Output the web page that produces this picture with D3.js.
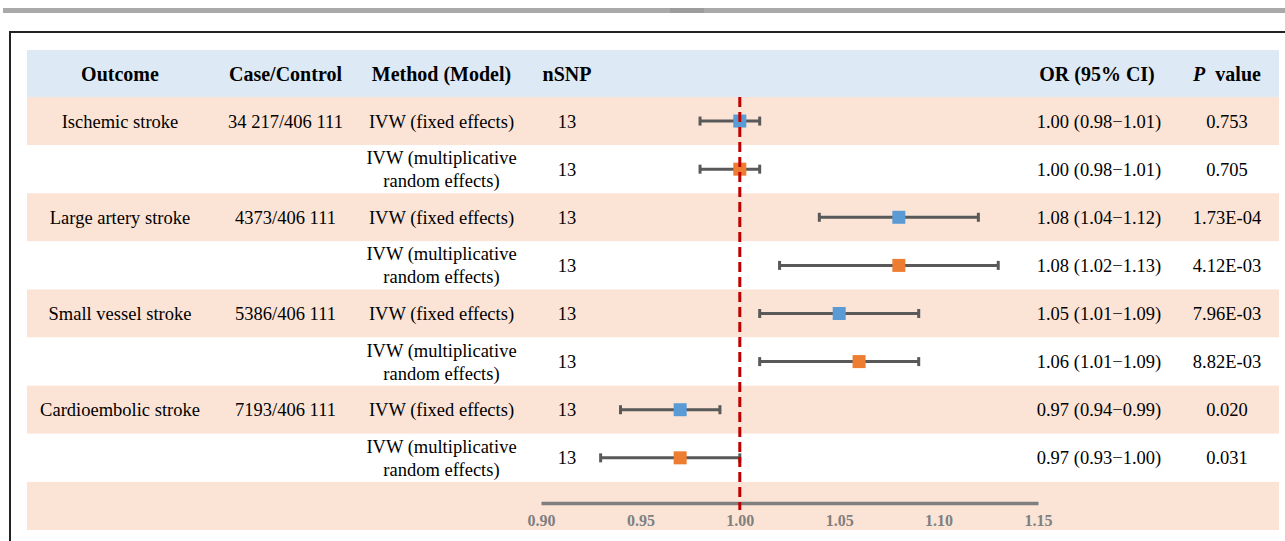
<!DOCTYPE html>
<html><head><meta charset="utf-8">
<script src="https://cdn.jsdelivr.net/npm/d3@7"></script>
<style>html,body{margin:0;padding:0;background:#fff;overflow:hidden}</style>
</head><body>
<svg id="c" width="1285" height="541"></svg>
<script>
const outcomes = ["Ischemic stroke", "", "Large artery stroke", "", "Small vessel stroke", "", "Cardioembolic stroke", ""];
const cases = ["34 217/406 111", "", "4373/406 111", "", "5386/406 111", "", "7193/406 111", ""];
const methods = [["IVW (fixed effects)"], ["IVW (multiplicative", "random effects)"], ["IVW (fixed effects)"], ["IVW (multiplicative", "random effects)"], ["IVW (fixed effects)"], ["IVW (multiplicative", "random effects)"], ["IVW (fixed effects)"], ["IVW (multiplicative", "random effects)"]];
const models = ["fixed", "random", "fixed", "random", "fixed", "random", "fixed", "random"];
const nsnp = [13, 13, 13, 13, 13, 13, 13, 13];
const orVals = [1.00, 1.00, 1.08, 1.08, 1.05, 1.06, 0.97, 0.97];
const loVals = [0.98, 0.98, 1.04, 1.02, 1.01, 1.01, 0.94, 0.93];
const hiVals = [1.01, 1.01, 1.12, 1.13, 1.09, 1.09, 0.99, 1.00];
const orText = ["1.00 (0.98\u22121.01)", "1.00 (0.98\u22121.01)", "1.08 (1.04\u22121.12)", "1.08 (1.02\u22121.13)", "1.05 (1.01\u22121.09)", "1.06 (1.01\u22121.09)", "0.97 (0.94\u22120.99)", "0.97 (0.93\u22121.00)"];
const pText = ["0.753", "0.705", "1.73E-04", "4.12E-03", "7.96E-03", "8.82E-03", "0.020", "0.031"];
const headers = ["Outcome", "Case/Control", "Method (Model)", "nSNP", "OR (95% CI)"];
const tickVals = [0.90, 0.95, 1.00, 1.05, 1.10, 1.15];

const svg = d3.select("#c");
const font = "'Liberation Serif','Times New Roman',serif";
const colX = {outcome: 120, cases: 285.5, method: 441.5, nsnp: 567, or: 1099, p: 1227};
const bandL = 27, bandR = 1279;
const pink = "#fbe4d6", blue = "#ddeaf6";

// top decoration
svg.append("rect").attr("x", 3).attr("y", 8).attr("width", 1282).attr("height", 5).attr("fill", "#a9a9a9");
svg.append("rect").attr("x", 670).attr("y", 8).attr("width", 34).attr("height", 5).attr("fill", "#9c9c9c");
// frame
svg.append("line").attr("x1", 9).attr("x2", 1285).attr("y1", 32).attr("y2", 32).attr("stroke", "#222").attr("stroke-width", 2);
svg.append("line").attr("x1", 10).attr("x2", 10).attr("y1", 31).attr("y2", 541).attr("stroke", "#222").attr("stroke-width", 2);

const rows = d3.range(9);
const y = d3.scaleBand().domain(rows).range([97, 530]).padding(0);
const x = d3.scaleLinear().domain([0.90, 1.15]).range([541, 1038]);

// header band
svg.append("rect").attr("x", bandL).attr("y", 50).attr("width", bandR - bandL).attr("height", 47).attr("fill", blue);
// row bands
svg.selectAll("rect.band").data(rows).join("rect").attr("class", "band")
  .attr("x", bandL).attr("width", bandR - bandL)
  .attr("y", d => y(d)).attr("height", y.bandwidth())
  .attr("fill", d => d % 2 === 0 ? pink : "#ffffff");

// headers
const hx = [colX.outcome, colX.cases, colX.method, colX.nsnp, colX.or - 2];
svg.selectAll("text.hdr").data(headers).join("text").attr("class", "hdr")
  .attr("x", (d, i) => hx[i]).attr("y", 74).attr("dy", "0.35em")
  .attr("text-anchor", "middle").attr("font-family", font).attr("font-weight", "bold")
  .attr("font-size", 20).attr("fill", "#000").text(d => d);
const pv = svg.append("text").attr("x", colX.p).attr("y", 74).attr("dy", "0.35em")
  .attr("text-anchor", "middle").attr("font-family", font).attr("font-weight", "bold")
  .attr("font-size", 20).attr("fill", "#000");
pv.append("tspan").attr("font-style", "italic").text("P");
pv.append("tspan").text("\u00a0 value");

const idx = d3.range(outcomes.length);
const cy = i => y(i) + y.bandwidth() / 2;
function col(arr, cx) {
  svg.append("g").selectAll("text").data(idx).join("text")
    .attr("x", cx).attr("y", i => cy(i)).attr("dy", "0.35em")
    .attr("text-anchor", "middle").attr("font-family", font).attr("font-size", 18.5)
    .attr("fill", "#000").text(i => arr[i]);
}
col(outcomes, colX.outcome);
col(cases, colX.cases);
col(nsnp, colX.nsnp);
col(orText, colX.or);
col(pText, colX.p);
// methods (possibly two lines)
svg.append("g").selectAll("text").data(idx).join("text")
  .attr("text-anchor", "middle").attr("font-family", font).attr("font-size", 18.5).attr("fill", "#000")
  .each(function (i) {
    const lines = methods[i];
    const t = d3.select(this);
    lines.forEach((l, k) => {
      t.append("tspan").attr("x", colX.method)
        .attr("y", cy(i) + (k - (lines.length - 1) / 2) * 23)
        .attr("dy", "0.35em").text(l);
    });
  });

// axis
const axisY = 503;
const axis = d3.axisBottom(x).tickValues(tickVals).tickFormat(d3.format(".2f")).tickSize(0).tickPadding(12);
const ag = svg.append("g").attr("transform", `translate(0,${axisY})`).call(axis);
ag.select(".domain").attr("stroke", "#7f7f7f").attr("stroke-width", 3.5);
ag.selectAll("text").attr("font-family", font).attr("font-weight", "bold").attr("font-size", 16).attr("fill", "#7f7f7f");

// error bars
const eb = svg.append("g").attr("stroke", "#595959").attr("stroke-width", 3);
eb.selectAll("line.ci").data(idx).join("line").attr("class", "ci")
  .attr("x1", i => x(loVals[i])).attr("x2", i => x(hiVals[i]))
  .attr("y1", i => cy(i)).attr("y2", i => cy(i));
eb.selectAll("line.capl").data(idx).join("line").attr("class", "capl")
  .attr("x1", i => x(loVals[i])).attr("x2", i => x(loVals[i]))
  .attr("y1", i => cy(i) - 4.5).attr("y2", i => cy(i) + 4.5);
eb.selectAll("line.capr").data(idx).join("line").attr("class", "capr")
  .attr("x1", i => x(hiVals[i])).attr("x2", i => x(hiVals[i]))
  .attr("y1", i => cy(i) - 4.5).attr("y2", i => cy(i) + 4.5);

// markers
const ms = 13;
svg.append("g").selectAll("rect").data(idx).join("rect")
  .attr("x", i => x(orVals[i]) - ms / 2).attr("y", i => cy(i) - ms / 2)
  .attr("width", ms).attr("height", ms)
  .attr("fill", i => models[i] === "fixed" ? "#5b9bd5" : "#ed7d31");

// reference line
svg.append("line").attr("x1", x(1)).attr("x2", x(1)).attr("y1", 97).attr("y2", 510)
  .attr("stroke", "#c00000").attr("stroke-width", 3).attr("stroke-dasharray", "10,5");
</script>
</body></html>
